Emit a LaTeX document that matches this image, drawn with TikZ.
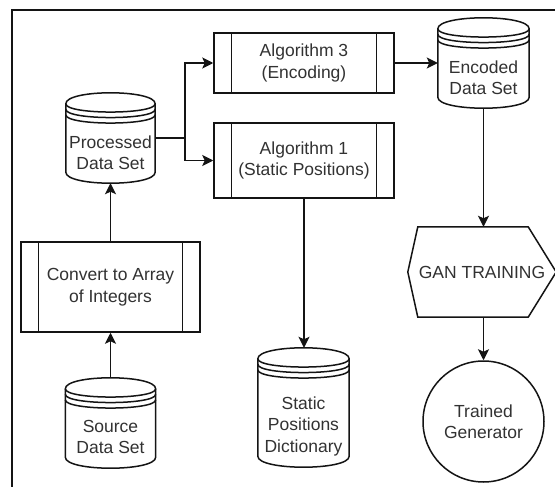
\documentclass[tikz,border=0pt]{standalone}
\usepackage{fontspec}
\setmainfont{Liberation Sans}
\usetikzlibrary{arrows.meta,calc}
\definecolor{ink}{RGB}{20,20,20}
\definecolor{txt}{RGB}{50,50,50}
\tikzset{
  base/.style={line width=1.5pt, draw=ink},
  conn/.style={line width=1.5pt, draw=ink, -{Stealth[length=11pt,width=11pt,inset=2.5pt]}},
  lbl/.style={font=\fontsize{17.5}{21.5}\selectfont, text=txt, align=center, inner sep=0pt},
  proc/.style={base, lbl, fill=white, rectangle,
    path picture={
      \draw[base] ([xshift=17.5pt]path picture bounding box.north west) -- ([xshift=17.5pt]path picture bounding box.south west);
      \draw[base] ([xshift=-17.5pt]path picture bounding box.north east) -- ([xshift=-17.5pt]path picture bounding box.south east);
    }},
  frame/.style={line width=1.1pt, draw=ink}
}
% name, cx, cy, w, h, text offset, text
\newcommand\dstore[7]{%
  \node[minimum width=#4pt, minimum height=#5pt, inner sep=0pt] (#1) at (#2,#3) {};
  \draw[base, fill=white] ($(#1.north west)+(0,11)$) .. controls ($(#1.north west)+(0,-3.67)$) and ($(#1.north east)+(0,-3.67)$) .. ($(#1.north east)+(0,11)$)
     -- ($(#1.south east)+(0,-11)$) .. controls ($(#1.south east)+(0,3.67)$) and ($(#1.south west)+(0,3.67)$) .. ($(#1.south west)+(0,-11)$) -- cycle;
  \foreach \k in {11,16.5,22}{
    \draw[base] ($(#1.north west)+(0,\k)$) .. controls ($(#1.north west)+(0,\k+11)$) and ($(#1.north east)+(0,\k+11)$) .. ($(#1.north east)+(0,\k)$);
  }
  \node[lbl] (#1-t) at ($(#1.center)+(0,#6)$) {#7};
}
\begin{document}
\begin{tikzpicture}[x=1pt,y=-1pt]
\useasboundingbox (0,0) rectangle (555,487);
\fill[white] (0,0) rectangle (555,487);
\draw[frame] (12,487) -- (12,10) -- (555,10);

% cylinders
\dstore{proc}{110.5}{138}{89}{90}{14.5}{Processed\\Data Set}
\dstore{enc}{483.5}{63}{91}{90}{14.5}{Encoded\\Data Set}
\dstore{stat}{303.5}{407.5}{91}{119}{18.5}{Static\\Positions\\Dictionary}
\dstore{src}{110.5}{423}{90}{90}{14}{Source\\Data Set}

% processes
\node[proc, minimum width=180pt, minimum height=60pt] (alg3) at (304,63) {Algorithm 3\\(Encoding)};
\node[proc, minimum width=180pt, minimum height=75pt] (alg1) at (304,160.5) {Algorithm 1\\(Static Positions)};
\node[proc, minimum width=179pt, minimum height=90pt] (conv) at (110.5,287) {Convert to Array\\of Integers};

% hexagon
\node[lbl, minimum width=148pt, minimum height=90pt] (gan) at (482,272) {GAN TRAINING};
\draw[base] (gan.west) -- ([xshift=10pt]gan.north west) -- ([xshift=-28pt]gan.north east) -- (gan.east)
  -- ([xshift=-28pt]gan.south east) -- ([xshift=10pt]gan.south west) -- cycle;

% circle
\node[base, lbl, circle, minimum size=121pt] (gen) at (483.5,421.5) {Trained\\Generator};

% connectors
\coordinate (split) at (185,138);
\draw[conn] (src.north) -- (conv.south);
\draw[conn] (conv.north) -- (proc.south);
\draw[conn] (proc.east) -- (split) |- (alg3.west);
\draw[conn] (proc.east) -- (split) |- (alg1.west);
\draw[conn] (alg3.east) -- (alg3.east -| enc.west);
\draw[conn] (alg1.south) -- (alg1.south |- stat.north);
\draw[conn] (enc.south) -- (enc.south |- gan.north);
\draw[conn] (enc.south |- gan.south) -- (enc.south |- gen.north);
\end{tikzpicture}
\end{document}
